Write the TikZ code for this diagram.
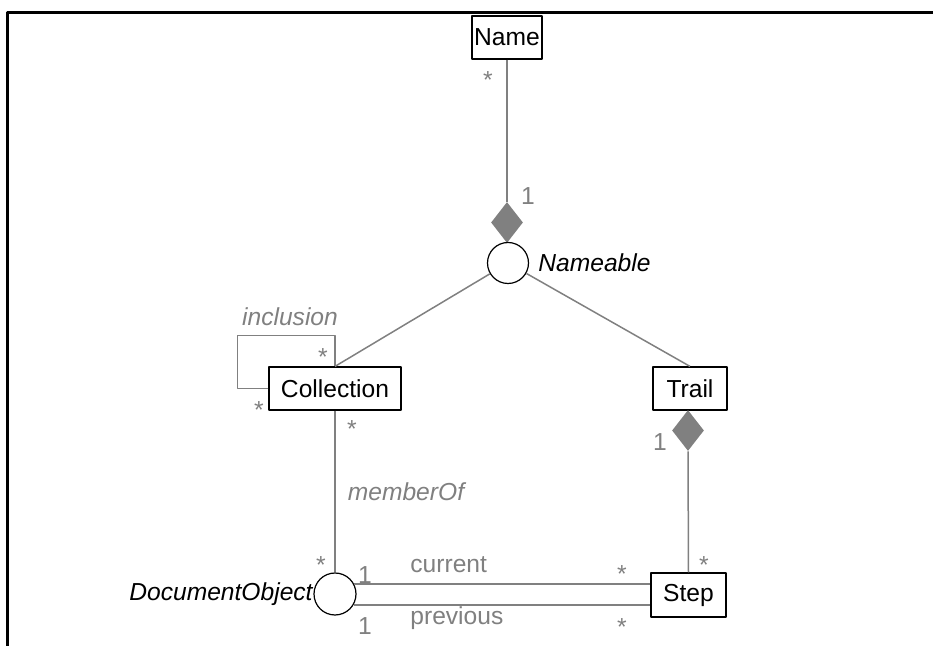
\documentclass[tikz,border=0pt]{standalone}
\usepackage{fontspec}
\setmainfont{Liberation Sans}
\usetikzlibrary{shapes.geometric,calc}
\definecolor{linkgray}{HTML}{808080}
\begin{document}
\begin{tikzpicture}[x=0.5pt,y=-0.5pt, font=\fontsize{12.3}{14}\selectfont, line join=round,
		cls/.style={draw, line width=0.6pt, minimum height=21.5pt, inner sep=0pt, minimum width=#1},
		iface/.style={draw, circle, line width=0.6pt, inner sep=0pt, minimum size=#1},
		comp/.style={diamond, fill=linkgray, inner sep=0pt, minimum width=16pt, minimum height=20.5pt},
		assoc/.style={draw=linkgray, line width=0.75pt},
		role/.style={text=linkgray, inner sep=0pt}]
	\useasboundingbox (0,0) rectangle (933,646);
	\draw[line width=1.3pt] (7.5,646) -- (7.5,12.5) -- (933,12.5); % frame
	% classes and interfaces
	\node[cls=35pt] (name) at (507,37.5) {Name};
	\node[comp] (dmdname) at (507,222.5) {};
	\node[iface=20.5pt] (nameable) at (508,263) {};
	\node[anchor=west, inner sep=0pt] at (538,263) {\itshape Nameable};
	\node[cls=66pt] (coll) at (335,388.5) {Collection};
	\node[cls=37pt] (trail) at (690,388.5) {Trail};
	\node[comp] (dmdtrail) at (688,430.5) {};
	\node[iface=21pt] (docobj) at (335,594) {};
	\node[anchor=east, inner sep=0pt] at (313,594) {\itshape DocumentObject};
	\node[cls=37.5pt, minimum height=22pt] (step) at (688.5,595) {Step};
	% associations
	\draw[assoc] (name.south) -- (dmdname.north);
	\draw[assoc] (nameable) -- (coll.north);
	\draw[assoc] (nameable) -- (trail.north);
	\draw[assoc] (coll.west) -- ++(-31,0) |- ($(coll.north)+(0,-31)$) -- (coll.north);
	\draw[assoc] (coll.south) -- (docobj.north);
	\draw[assoc] (dmdtrail.south) -- (step.north);
	\draw[assoc] (docobj.28) -- (docobj.28 -| step.west);
	\draw[assoc] (docobj.-31) -- (docobj.-31 -| step.west);
	% roles and multiplicities
	\node[role] at (488,80) {*};
	\node[role] at (528,196) {1};
	\node[role] at (290,317) {\itshape inclusion};
	\node[role] at (323,357) {*};
	\node[role] at (259,410) {*};
	\node[role] at (352,429) {*};
	\node[role] at (406,492) {\itshape memberOf};
	\node[role] at (660,442) {1};
	\node[role] at (704,565) {*};
	\node[role] at (321,565) {*};
	\node[role] at (365,575) {1};
	\node[role] at (365,626) {1};
	\node[role, anchor=west] at (410,565) {current};
	\node[role, anchor=west] at (410,618) {previous};
	\node[role] at (622,574) {*};
	\node[role] at (622,627) {*};
\end{tikzpicture}
\end{document}
